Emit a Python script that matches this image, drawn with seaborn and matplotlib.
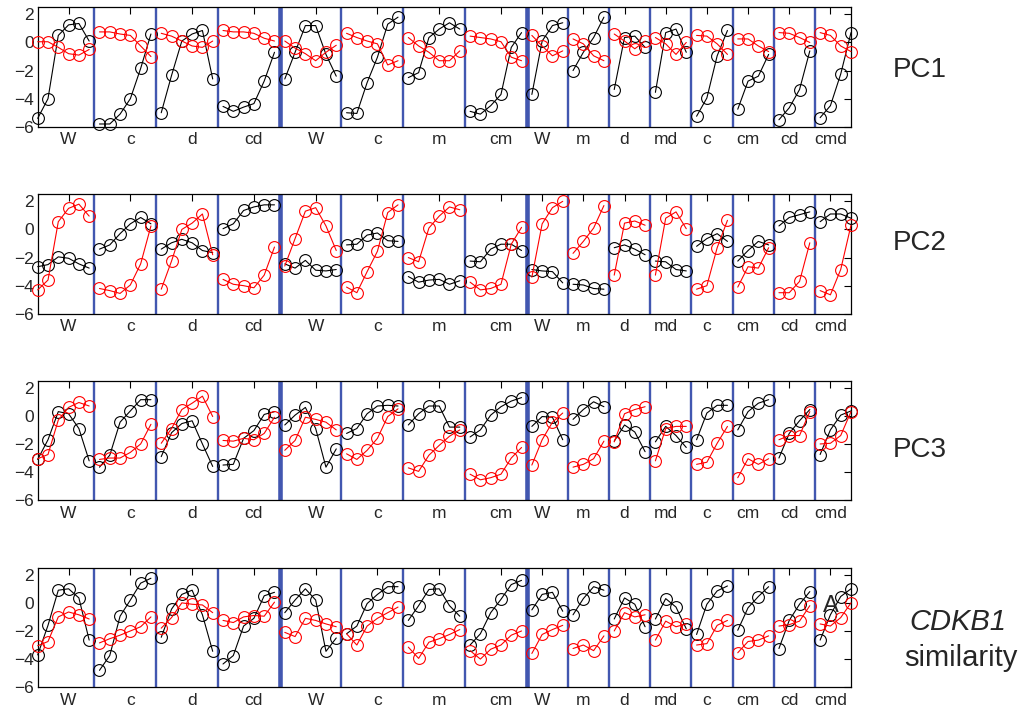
import numpy as np
import pandas as pd
import matplotlib
matplotlib.use("Agg")
import matplotlib.pyplot as plt
import seaborn as sns

# ---------------- data ----------------
segments = ["W", "c", "d", "cd", "W", "c", "m", "cm",
            "W", "m", "d", "md", "c", "cm", "cd", "cmd"]
seg_sizes = [6, 6, 6, 6, 6, 6, 6, 6, 4, 4, 4, 4, 4, 4, 4, 4]
tick_offsets = [3, 3, 3, 3, 3, 3, 3, 3, 1, 1, 1, 1, 1, 1, 1, 1]
group_breaks = [4, 8]  # segment indices where a new experiment group starts

panel_labels = ["PC1", "PC2", "PC3", "CDKB1"]

pc1_black = [-5.4, -4.0, 0.5, 1.25, 1.35, 0.1,
             -5.8, -5.8, -5.1, -4.0, -1.85, 0.6,
             -5.0, -2.35, 0.1, 0.6, 0.85, -2.6,
             -4.55, -4.9, -4.6, -4.35, -2.75, -0.7,
             -2.6, -0.7, 1.2, 1.2, -0.85, -2.4,
             -5.0, -5.05, -2.85, -1.05, 1.3, 1.8,
             -2.5, -2.15, 0.35, 0.95, 1.4, 0.95,
             -4.9, -5.1, -4.5, -3.7, -0.35, 0.7,
             -3.7, 0.1, 1.2, 1.4,
             -2.0, -0.7, 0.35, 1.8,
             -3.35, 0.35, 0.45, -0.35,
             -3.55, 0.7, 0.95, -0.7,
             -5.25, -3.95, -0.95, 0.85,
             -4.75, -2.75, -2.4, -0.85,
             -5.5, -4.65, -3.35, -0.6,
             -5.35, -4.5, -2.25, 0.7]
pc1_red = [0.05, 0.05, -0.35, -0.8, -0.9, -0.5,
           0.75, 0.75, 0.6, 0.5, -0.25, -1.0,
           0.65, 0.45, 0.1, -0.25, -0.35, 0.1,
           0.85, 0.75, 0.75, 0.65, 0.3, 0.1,
           0.1, -0.4, -0.8, -1.3, -0.7, -0.2,
           0.65, 0.35, 0.1, -0.1, -1.6, -1.3,
           0.35, -0.25, -0.7, -1.3, -1.3, -0.6,
           0.45, 0.35, 0.25, 0.05, -1.05, -1.3,
           0.5, -0.25, -0.95, -0.6,
           0.25, -0.1, -0.95, -1.3,
           0.6, 0.1, -0.45, 0.1,
           0.35, -0.1, -0.85, 0.0,
           0.5, 0.45, -0.1, -0.85,
           0.25, 0.25, -0.25, -0.65,
           0.7, 0.65, 0.35, 0.0,
           0.7, 0.5, -0.25, -0.65]

pc2_black = [-2.65, -2.5, -1.95, -2.05, -2.45, -2.75,
             -1.4, -1.1, -0.3, 0.4, 0.85, 0.4,
             -1.4, -0.95, -0.7, -0.95, -1.5, -1.65,
             0.05, 0.4, 1.35, 1.6, 1.75, 1.75,
             -2.45, -2.75, -2.2, -2.9, -2.95, -2.85,
             -1.1, -1.05, -0.4, -0.25, -0.8, -0.85,
             -3.35, -3.75, -3.6, -3.55, -3.9, -3.65,
             -2.25, -2.3, -1.4, -1.05, -1.05, -1.5,
             -2.85, -2.95, -3.0, -3.8,
             -3.9, -3.95, -4.2, -4.25,
             -1.3, -1.1, -1.4, -1.8,
             -2.25, -2.3, -2.85, -2.95,
             -1.2, -0.65, -0.3, -0.85,
             -2.25, -1.5, -0.85, -1.1,
             0.25, 0.85, 1.05, 1.25,
             0.55, 1.1, 1.1, 0.8]
pc2_red = [-4.3, -3.6, 0.55, 1.5, 1.8, 0.95,
           -4.2, -4.35, -4.55, -3.95, -2.45, 0.25,
           -4.25, -2.25, 0.0, 0.45, 1.1, -1.8,
           -3.55, -3.9, -4.0, -4.15, -3.25, -1.25,
           -2.6, -0.65, 1.3, 1.55, 0.25, -1.5,
           -4.1, -4.5, -3.0, -1.55, 1.2, 1.75,
           -2.0, -2.3, 0.1, 0.95, 1.6, 1.4,
           -3.75, -4.3, -4.2, -3.9, -1.05, 0.15,
           -3.4, 0.4, 1.55, 2.0,
           -1.7, -0.85, 0.1, 1.7,
           -3.25, 0.45, 0.6, 0.3,
           -3.25, 0.8, 1.25, 0.05,
           -4.25, -4.0, -1.3, 0.65,
           -4.1, -2.65, -2.75, -1.3,
           -4.5, -4.5, -3.7, -0.95,
           -4.35, -4.65, -2.85, 0.3]

pc3_black = [-3.1, -1.7, 0.3, 0.15, -0.9, -3.2,
             -3.65, -2.8, -0.45, 0.35, 1.15, 1.15,
             -2.9, -1.2, -0.55, -0.35, -2.0, -3.6,
             -3.5, -3.45, -1.6, -1.05, 0.1, 0.3,
             -0.65, 0.05, 0.6, -0.9, -3.65, -2.35,
             -1.25, -0.9, 0.15, 0.7, 0.75, 0.7,
             -0.65, 0.15, 0.7, 0.7, -0.8, -0.8,
             -1.5, -1.0, 0.05, 0.65, 1.05, 1.3,
             -0.75, -0.05, -0.1, -1.7,
             -0.25, 0.45, 1.0, 0.65,
             -1.8, -0.65, -1.15, -2.55,
             -1.85, -0.75, -1.4, -2.25,
             -1.7, 0.2, 0.75, 0.75,
             -1.0, 0.3, 0.9, 1.15,
             -3.0, -1.25, -0.35, 0.45,
             -2.75, -1.0, 0.05, 0.35]
pc3_red = [-3.05, -2.75, -0.3, 0.6, 0.95, 0.7,
           -3.1, -3.0, -3.0, -2.6, -2.0, -0.6,
           -1.95, -0.9, 0.45, 0.9, 1.4, -0.05,
           -1.75, -1.8, -1.6, -1.7, -1.25, -0.1,
           -2.45, -1.75, -0.1, -0.25, -0.45, -1.0,
           -2.7, -3.1, -2.45, -1.6, -0.05, 0.5,
           -3.7, -3.95, -2.8, -2.1, -1.45, -1.0,
           -4.15, -4.55, -4.4, -4.15, -3.0, -2.25,
           -3.5, -1.7, -0.45, 0.2,
           -3.65, -3.45, -3.05, -1.8,
           -1.85, 0.15, 0.45, 0.65,
           -3.2, -0.9, -0.75, -0.75,
           -3.45, -3.3, -1.95, -0.75,
           -4.4, -3.05, -3.45, -3.05,
           -1.7, -1.4, -1.4, 0.3,
           -2.0, -1.95, -1.4, 0.3]

cdkb1_black = [-3.7, -1.6, 0.9, 1.0, 0.35, -2.65,
               -4.8, -3.75, -0.95, 0.2, 1.4, 1.75,
               -2.45, -0.45, 0.6, 0.9, -0.85, -3.45,
               -4.35, -3.75, -1.65, -1.1, 0.5, 0.75,
               -0.7, 0.2, 1.0, 0.2, -3.45, -2.5,
               -2.2, -1.65, -0.05, 0.6, 1.15, 1.15,
               -1.25, -0.2, 0.95, 1.0, -0.2, -0.95,
               -3.0, -2.2, -0.7, 0.25, 1.3, 1.6,
               -0.5, 0.6, 0.75, -0.6,
               -0.85, 0.3, 1.15, 0.9,
               -1.15, 0.35, -0.1, -1.7,
               -1.15, 0.3, -0.3, -1.85,
               -2.25, -0.1, 0.85, 1.2,
               -1.95, -0.35, 0.45, 1.15,
               -3.25, -1.25, -0.1, 0.8,
               -2.65, -0.85, 0.45, 1.0]
cdkb1_red = [-3.05, -2.75, -1.0, -0.65, -0.85, -1.15,
             -2.85, -2.55, -2.3, -2.0, -1.7, -1.0,
             -1.8, -1.05, 0.0, -0.1, -0.15, -0.7,
             -1.25, -1.4, -1.0, -0.9, -0.95, 0.05,
             -2.1, -2.4, -1.1, -1.25, -1.5, -1.7,
             -2.2, -3.0, -1.65, -1.1, -0.7, -0.3,
             -3.15, -3.95, -2.8, -2.55, -2.25, -1.9,
             -3.4, -4.0, -3.3, -3.0, -2.3, -2.0,
             -3.6, -2.25, -1.9, -1.6,
             -3.25, -3.0, -3.4, -2.35,
             -2.0, -0.7, -1.0, -0.85,
             -2.65, -1.3, -1.7, -1.5,
             -3.0, -2.9, -1.6, -1.25,
             -3.55, -2.75, -2.65, -2.35,
             -1.65, -1.55, -1.3, -0.2,
             -1.5, -1.65, -1.05, 0.0]

panels = [(pc1_black, pc1_red), (pc2_black, pc2_red),
          (pc3_black, pc3_red), (cdkb1_black, cdkb1_red)]

# ---------------- layout helpers ----------------
starts = np.concatenate([[0], np.cumsum(seg_sizes)[:-1]])
x_all = np.arange(1, sum(seg_sizes) + 1)
seg_id = np.repeat(np.arange(len(segments)), seg_sizes)
tick_pos = [s + 1 + o for s, o in zip(starts, tick_offsets)]
boundaries = [s + 0.5 for s in starts[1:]]

sns.set_theme(style="white")
plt.rcParams["font.family"] = ["Liberation Sans", "DejaVu Sans"]
plt.rcParams["xtick.direction"] = "in"
plt.rcParams["ytick.direction"] = "in"

W, H = 1031, 717
fig = plt.figure(figsize=(W / 100, H / 100), dpi=100)
left_px, right_px = 37.7, 851.0
tops_px = [7.3, 194.3, 380.7, 567.7]
height_px = 119.5
blue = "#4257B0"
text_col = "#262626"

for i, (blk, red) in enumerate(panels):
    ax = fig.add_axes([left_px / W, 1 - (tops_px[i] + height_px) / H,
                       (right_px - left_px) / W, height_px / H])
    for k, b in enumerate(boundaries):
        thick = (k + 1) in group_breaks
        ax.axvline(b, color=blue, lw=3.3 if thick else 1.7, zorder=1)
    for vals, col in [(blk, "black"), (red, "red")]:
        df = pd.DataFrame({"x": x_all, "v": vals, "seg": seg_id})
        sns.lineplot(data=df, x="x", y="v", units="seg", estimator=None,
                     color=col, lw=0.8, marker="o", markersize=8.5,
                     markerfacecolor="none", markeredgecolor=col,
                     markeredgewidth=0.8, ax=ax, legend=False,
                     clip_on=False, zorder=3)
    ax.set_xlim(1, x_all[-1])
    ax.set_ylim(-6, 2.5)
    ax.set_xticks(tick_pos)
    ax.set_xticklabels(segments)
    ax.set_yticks([-6, -4, -2, 0, 2])
    ax.set_xlabel("")
    ax.set_ylabel("")
    ax.tick_params(axis="both", top=True, right=True, length=5, width=0.8,
                   color="black", labelsize=12.5, labelcolor=text_col)
    ax.tick_params(axis="x", pad=4)
    ax.tick_params(axis="y", pad=3)
    for sp in ax.spines.values():
        sp.set_color("black")
        sp.set_linewidth(0.9)
    if i == 3:
        ax.text(78.0, -0.2, "A", fontsize=17, color=text_col,
                ha="center", va="center", zorder=5)

label_y = [70, 243, 450]
for lab, yy in zip(panel_labels[:3], label_y):
    fig.text(920 / W, 1 - yy / H, lab, fontsize=20, color=text_col,
             ha="center", va="center")
fig.text(958 / W, 1 - 622 / H, panel_labels[3], fontsize=21, style="italic",
         color=text_col, ha="center", va="center")
fig.text(961 / W, 1 - 658 / H, "similarity", fontsize=21, color=text_col,
         ha="center", va="center")

fig.savefig("out.png", dpi=100)
